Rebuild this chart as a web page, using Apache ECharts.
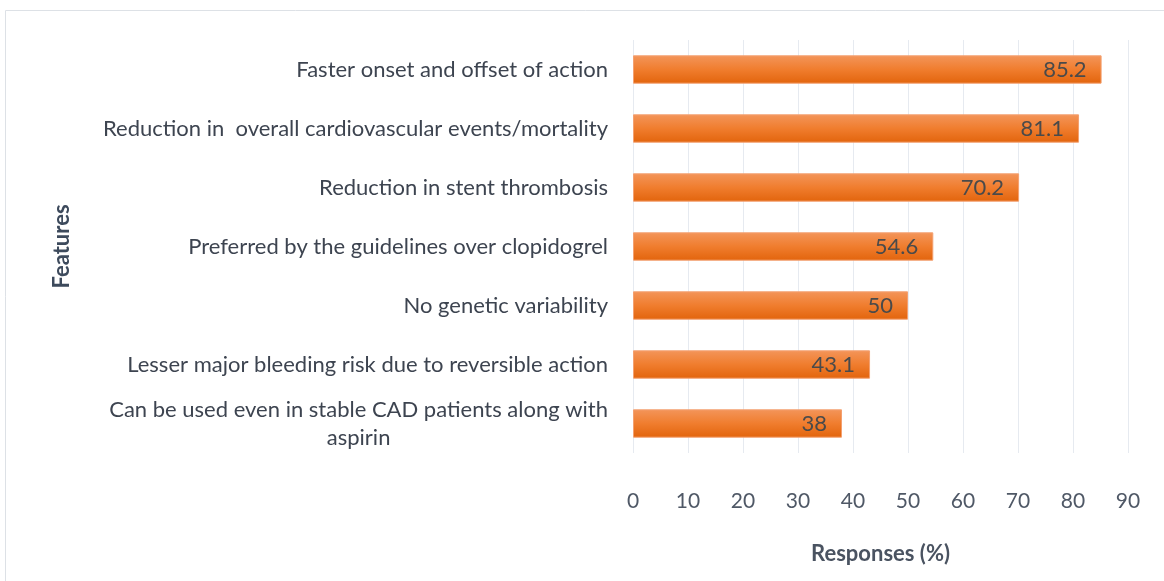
<!DOCTYPE html>
<html><head><meta charset="utf-8">
<script src="https://cdn.jsdelivr.net/npm/echarts@6/dist/echarts.min.js"></script>
<style>html,body{margin:0;padding:0;background:#fff}#c{width:1164px;height:581px}</style>
</head><body><div id="c"></div>
<script>
const categories = [
  "Faster onset and offset of action",
  "Reduction in  overall cardiovascular events/mortality",
  "Reduction in stent thrombosis",
  "Preferred by the guidelines over clopidogrel",
  "No genetic variability",
  "Lesser major bleeding risk due to reversible action",
  "Can be used even in stable CAD patients along with\naspirin"
];
const values = [85.2, 81.1, 70.2, 54.6, 50, 43.1, 38];
const xTicks = [0, 10, 20, 30, 40, 50, 60, 70, 80, 90];

const chart = echarts.init(document.getElementById('c'));
const font = 'Lato, "Open Sans", sans-serif';
chart.setOption({
  animation: false,
  graphic: [{
    type: 'rect', shape: {x: 5.5, y: 10.5, width: 1170, height: 600},
    style: {fill: 'none', stroke: '#dde1e6', lineWidth: 1}, silent: true
  }],
  grid: {left: 633, right: 36, top: 40, bottom: 128},
  xAxis: {
    type: 'value', min: xTicks[0], max: xTicks[xTicks.length - 1], interval: 10,
    axisLine: {show: false}, axisTick: {show: false},
    splitLine: {show: true, lineStyle: {color: '#e6eaf0', width: 1}},
    axisLabel: {margin: 38, fontSize: 21, color: '#4f5866', fontFamily: font},
    name: 'Responses (%)', nameLocation: 'middle', nameGap: 90,
    nameTextStyle: {fontSize: 22, fontWeight: 'bold', color: '#4a5361', fontFamily: font}
  },
  yAxis: {
    type: 'category', data: categories, inverse: true,
    axisLine: {show: false}, axisTick: {show: false},
    axisLabel: {
      margin: 25, fontSize: 22, color: '#3d4450', fontFamily: font, lineHeight: 28,
      formatter: function (v) {
        if (v.indexOf('\n') >= 0) {
          return v.split('\n').map(s => '{c|' + s + '}').join('\n');
        }
        return v;
      },
      rich: {c: {align: 'center', fontSize: 22, color: '#3d4450', fontFamily: font, lineHeight: 28}}
    },
    name: 'Features', nameLocation: 'middle', nameRotate: 90, nameGap: 560,
    nameTextStyle: {fontSize: 22, fontWeight: 'bold', color: '#3d4a5c', fontFamily: font}
  },
  series: [{
    type: 'bar', data: values, barCategoryGap: '52%',
    itemStyle: {
      color: new echarts.graphic.LinearGradient(0, 0, 0, 1, [
        {offset: 0, color: '#f3955a'},
        {offset: 0.5, color: '#f07d2e'},
        {offset: 1, color: '#e2640c'}
      ]),
      borderColor: '#f4a070', borderWidth: 1
    },
    label: {
      show: true, position: 'insideRight', distance: 15,
      fontSize: 22, color: '#4a4a4a', fontFamily: font
    }
  }]
});
</script></body></html>
